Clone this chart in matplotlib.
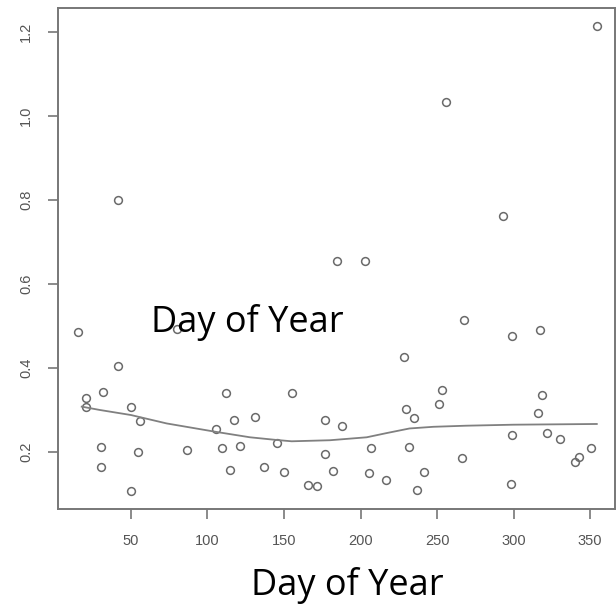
import matplotlib

matplotlib.use('agg')
import matplotlib.pyplot as plt

# day of year / value pairs
day = [15.6, 20.6, 20.6, 31.5, 41.7, 49.8, 55.9, 30.6, 54.8, 30.6, 49.8, 41.7,
       79.9, 86.8, 105.3, 111.9, 109.3, 117.1, 114.5, 121.2, 131.2, 137.1,
       145.2, 150.2, 155.4, 165.7, 171.6, 176.8, 176.8, 181.8, 188.1, 206.9,
       205.8, 216.9, 228.6, 229.9, 234.8, 231.9, 236.7,
       241.7, 251.3, 253.3, 266.1, 267.9, 299.2, 299.2, 298.2, 317.3, 318.6,
       316.2, 322.1, 330.6, 340.4, 343.0, 350.7,
       354.4, 255.9, 293.3, 184.8, 202.7]
value = [0.486, 0.328, 0.306, 0.342, 0.405, 0.306, 0.274, 0.212, 0.199, 0.164,
         0.107, 0.800,
         0.494, 0.204, 0.254, 0.340, 0.210, 0.277, 0.158, 0.215, 0.284, 0.165,
         0.222, 0.152, 0.340, 0.121, 0.119, 0.276, 0.195, 0.154, 0.263, 0.210,
         0.151, 0.133, 0.425, 0.302, 0.280, 0.213, 0.110,
         0.153, 0.314, 0.347, 0.186, 0.515, 0.476, 0.240, 0.124, 0.491, 0.336,
         0.292, 0.245, 0.232, 0.175, 0.189, 0.210,
         1.214, 1.034, 0.762, 0.655, 0.655]

# smooth (lowess) curve
smooth_x = [17.8, 29.7, 50, 73.3, 105.4, 127.8, 145.2, 155, 180, 204, 217, 232,
            247.6, 269, 300, 354.4]
smooth_y = [0.308, 0.300, 0.288, 0.268, 0.248, 0.235, 0.2286, 0.2255, 0.228,
            0.235, 0.245, 0.256, 0.260, 0.2626, 0.265, 0.2667]

x_ticks = [50, 100, 150, 200, 250, 300, 350]
y_ticks = [0.2, 0.4, 0.6, 0.8, 1.0, 1.2]

fig = plt.figure(figsize=(6.16, 6.04), dpi=100)
ax = fig.add_axes([58.3 / 616, 1 - 509 / 604, (615 - 58.3) / 616, (509 - 8) / 604])

grey = '#6a6a6a'
ax.plot(day, value, 'o', markerfacecolor='none', markeredgecolor=grey,
        markersize=5.6, markeredgewidth=1.1)
ax.plot(smooth_x, smooth_y, color='#808080', linewidth=1.3)

ax.set_xlim(2.5, 366.3)
ax.set_ylim(0.0643, 1.257)
ax.set_xticks(x_ticks)
ax.set_yticks(y_ticks)
ax.set_xticklabels([str(t) for t in x_ticks])
ax.set_yticklabels(['%.1f' % t for t in y_ticks], rotation=90, va='center')

for sp in ax.spines.values():
  sp.set_color('#777777')
  sp.set_linewidth(1.4)
ax.tick_params(length=7, width=1.2, color='#777777', labelcolor='#555555',
               labelsize=10.5, pad=11)
for lab in ax.get_xticklabels() + ax.get_yticklabels():
  lab.set_family('Liberation Sans')

# overlaid label text
fig.text(247 / 616, 1 - 332 / 604, 'Day of Year', family='Open Sans',
         fontsize=26, color='black', ha='center', va='baseline')
fig.text(347 / 616, 1 - 595 / 604, 'Day of Year', family='Open Sans',
         fontsize=26, color='black', ha='center', va='baseline')

plt.savefig('out.png', dpi=100)
